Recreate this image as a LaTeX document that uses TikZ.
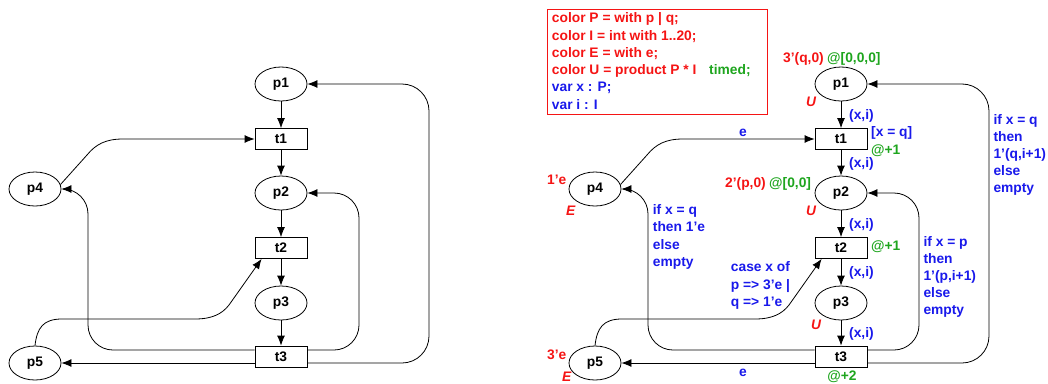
\documentclass[tikz,border=0pt]{standalone}
\usepackage{fontspec}
\setmainfont{Liberation Sans}
\usetikzlibrary{arrows.meta,shapes.geometric,calc}
\definecolor{cred}{RGB}{245,20,20}
\definecolor{cblue}{RGB}{25,25,235}
\definecolor{cgreen}{RGB}{30,165,30}
\tikzset{
  place/.style={ellipse,draw,line width=0.8pt,minimum width=52pt,minimum height=34pt,inner sep=0pt},
  trans/.style={rectangle,draw,line width=0.8pt,minimum width=52pt,minimum height=21pt,inner sep=0pt},
  arc/.style={draw,line width=0.8pt,-{Latex[length=10pt,width=8pt]}},
  lab/.style={inner sep=0pt,anchor=base west},
  rlab/.style={lab,text=cred},
  blab/.style={lab,text=cblue},
  glab/.style={lab,text=cgreen},
  typ/.style={lab,text=cred,font=\fontsize{13.8}{17}\selectfont\bfseries\itshape},
}
\newcommand\drawnet[1]{%
  \node[place] (#1p1) at (281,84) {p1};
  \node[trans] (#1t1) at (281,139) {t1};
  \node[place] (#1p2) at (281,193) {p2};
  \node[trans] (#1t2) at (281,248) {t2};
  \node[place] (#1p3) at (281,303) {p3};
  \node[trans] (#1t3) at (281,356.5) {t3};
  \node[place] (#1p4) at (35,189) {p4};
  \node[place] (#1p5) at (35,363) {p5};
  \draw[arc] (#1p1) -- (#1t1);
  \draw[arc] (#1t1) -- (#1p2);
  \draw[arc] (#1p2) -- (#1t2);
  \draw[arc] (#1t2) -- (#1p3);
  \draw[arc] (#1p3) -- (#1t3);
  \draw[arc] (#1p4.10) -- (87,155) .. controls (96,144) and (106,139) .. (123,139) -- (#1t1.west);
  \draw[arc,rounded corners=25pt] ($(#1t3.west)+(0,-6.5)$) -- (88,350) -- (88,189) -- (#1p4.east);
  \draw[arc,rounded corners=25pt] ($(#1t3.east)+(0,-6.5)$) -- (359,350) -- (359,193) -- (#1p2.east);
  \draw[arc] ($(#1t3.west)+(0,6.5)$) -- (#1p5.east);
  \draw[arc,rounded corners=27pt] ($(#1t3.east)+(0,6.5)$) -- (429,363) -- (429,84) -- (#1p1.east);
  \draw[arc] (#1p5.north) .. controls (37,328) and (43,319) .. (62,319) -- (195,319)
     .. controls (212,319) and (222,314) .. (229,305) -- ($(#1t2.south west)+(7,0)$);
}
\begin{document}
\begin{tikzpicture}[x=1pt,y=-1pt,font=\fontsize{13.8}{17}\selectfont\bfseries]
\useasboundingbox (0,0) rectangle (1048,383);
\drawnet{L}
\begin{scope}[shift={(560,0)}]
\drawnet{R}
\end{scope}
% declarations
\draw[cred,line width=0.8pt] (547,9) rectangle (767,114);
\node[rlab] (d1) at (551.7,22.7) {color P = with p | q;};
\node[rlab] (d2) at (551.7,40) {color I = int with 1..20;};
\node[rlab] (d3) at (551.7,57.2) {color E = with e;};
\node[rlab] (d4) at (551.7,74.5) {color U = product P * I};
\node[glab] (d4b) at (709,74.5) {timed;};
\node[blab] (d5) at (551.7,91.7) {var x : P;};
\node[blab] (d6) at (551.7,109) {var i : I};
% p1
\node[rlab,anchor=base east] (m1) at (824,62.5) {3'(q,0)};
\node[glab] (m1t) at (827,62.5) {@[0,0,0]};
\node[typ] (u1) at (806,106) {U};
\node[blab] (a1) at (849,119.3) {(x,i)};
\node[blab] (g1) at (871,136.7) {[x = q]};
\node[glab] (d1t) at (871,154.3) {@+1};
\node[blab] (a2) at (849,167.7) {(x,i)};
% p2
\node[rlab,anchor=base east] (m2) at (766,187.7) {2'(p,0)};
\node[glab] (m2t) at (769,187.7) {@[0,0]};
\node[typ] (u2) at (806,215) {U};
\node[blab] (a3) at (849,228.3) {(x,i)};
\node[glab] (d2t) at (871,250) {@+1};
\node[blab] (a4) at (849,276) {(x,i)};
\node[typ] (u3) at (811,329.3) {U};
\node[blab] (a5) at (849,337.3) {(x,i)};
\node[glab,anchor=base] (d3t) at (842,380.7) {@+2};
% right arcs
\node[blab] (q1) at (993.3,124) {if x = q};
\node[blab] (q2) at (993.3,141.2) {then};
\node[blab] (q3) at (993.3,158.4) {1'(q,i+1)};
\node[blab] (q4) at (993.3,175.6) {else};
\node[blab] (q5) at (993.3,192.8) {empty};
\node[blab] (r1) at (923.3,246) {if x = p};
\node[blab] (r2) at (923.3,263.2) {then};
\node[blab] (r3) at (923.3,280.4) {1'(p,i+1)};
\node[blab] (r4) at (923.3,297.6) {else};
\node[blab] (r5) at (923.3,314.8) {empty};
% p4, p5
\node[blab,anchor=base] (e1) at (743,136.7) {e};
\node[blab,anchor=base] (e2) at (743,376.7) {e};
\node[rlab] (m4) at (547,184) {1'e};
\node[typ] (u4) at (566,215) {E};
\node[blab] (s1) at (652.7,214.3) {if x = q};
\node[blab] (s2) at (652.7,231.7) {then 1'e};
\node[blab] (s3) at (652.7,249.3) {else};
\node[blab] (s4) at (652.7,266.7) {empty};
\node[blab] (c1) at (730.7,271.7) {case x of};
\node[blab] (c2) at (730.7,289.3) {p => 3'e |};
\node[blab] (c3) at (730.7,306.7) {q => 1'e};
\node[rlab] (m5) at (547,359) {3'e};
\node[typ] (u5) at (562,381.5) {E};
\end{tikzpicture}
\end{document}
